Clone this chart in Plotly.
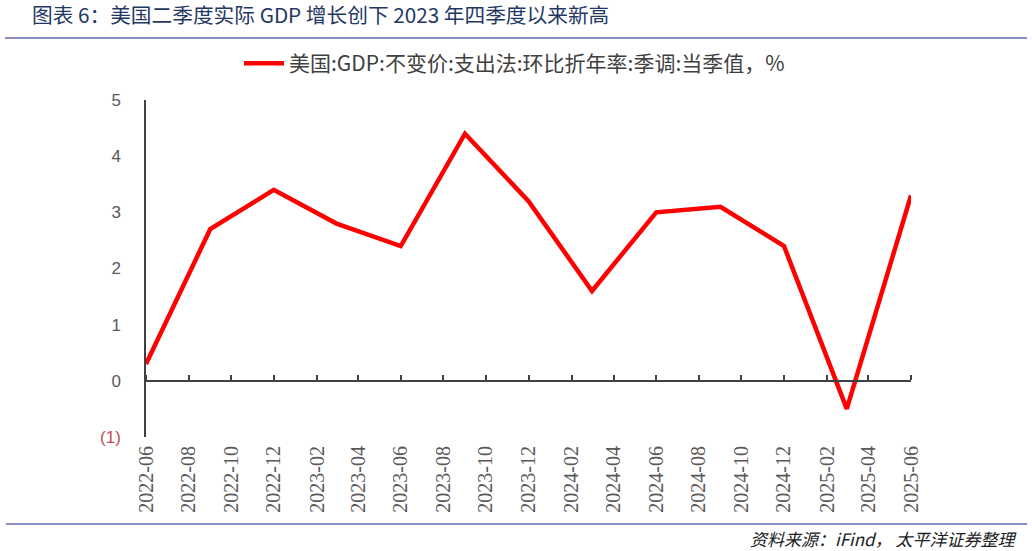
import plotly.graph_objects as go

dates = ["2022-06-01", "2022-09-01", "2022-12-01", "2023-03-01", "2023-06-01", "2023-09-01",
         "2023-12-01", "2024-03-01", "2024-06-01", "2024-09-01", "2024-12-01", "2025-03-01",
         "2025-06-01"]
gdp_qoq_saar = [0.3, 2.7, 3.4, 2.8, 2.4, 4.4, 3.2, 1.6, 3.0, 3.1, 2.4, -0.5, 3.3]

y_tickvals = [-1, 0, 1, 2, 3, 4, 5]
y_ticktext = ["<span style='color:#c0504d'>(1)</span>", "0", "1", "2", "3", "4", "5"]

series_name = "美国:GDP:不变价:支出法:环比折年率:季调:当季值，%"
title_text = "图表 6：美国二季度实际 GDP 增长创下 2023 年四季度以来新高"
source_text = "资料来源：iFind， 太平洋证券整理"

W, H = 1032, 551
ML, MR, MT, MB = 146, 121, 100, 114
pw, ph = W - ML - MR, H - MT - MB


def px_x(x):
    return (x - ML) / pw


def px_y(y):
    return (H - MB - y) / ph


fig = go.Figure()
fig.add_trace(go.Scatter(
    x=dates, y=gdp_qoq_saar, mode="lines", name=series_name,
    line=dict(color="#ff0000", width=4.5), showlegend=True,
))

xrange = ["2022-06-01", "2025-06-01"]
yrange = [-1, 5]

fig.update_layout(
    width=W, height=H,
    margin=dict(l=ML, r=MR, t=MT, b=MB, autoexpand=False),
    paper_bgcolor="white", plot_bgcolor="white",
    font=dict(family="Noto Sans CJK SC", color="#404040"),
    title=dict(text=title_text, xref="container", yref="container", x=32 / W, xanchor="left",
               y=1 - 16 / H, yanchor="middle", pad=dict(l=0, r=0, t=0, b=0),
               font=dict(family="Noto Sans CJK SC", size=20.7, color="#1f3864")),
    legend=dict(orientation="h", x=px_x(239), xanchor="left", y=px_y(43), yanchor="top",
                font=dict(family="Noto Sans CJK SC", size=21, color="#404040"),
                bgcolor="rgba(0,0,0,0)", itemwidth=40),
    xaxis=dict(type="date", range=xrange, dtick="M2", tick0="2022-06-01", tickformat="%Y-%m",
               tickangle=-90, showgrid=False, showline=False, ticks="", zeroline=False,
               automargin=False,
               tickfont=dict(family="Liberation Serif", size=20, color="#595959"),
               ticklabelstandoff=4),
    xaxis2=dict(type="date", range=xrange, dtick="M2", tick0="2022-06-01", overlaying="x",
                side="top", anchor="free", position=(0 - yrange[0]) / (yrange[1] - yrange[0]),
                showticklabels=False, showgrid=False, showline=True, linecolor="#404040",
                linewidth=1.5, ticks="outside", ticklen=5, tickwidth=1.5, tickcolor="#404040",
                automargin=False),
    yaxis=dict(range=yrange, tickvals=y_tickvals, ticktext=y_ticktext, showgrid=False,
               zeroline=False, showline=True, linecolor="#404040", linewidth=1.5, ticks="",
               automargin=False,
               tickfont=dict(family="Liberation Sans", size=17, color="#595959"),
               ticklabelstandoff=20),
    shapes=[
        dict(type="line", xref="paper", yref="paper", x0=px_x(5), x1=px_x(1027),
             y0=px_y(38), y1=px_y(38), line=dict(color="#8c8cc4", width=2)),
        dict(type="line", xref="paper", yref="paper", x0=px_x(6), x1=px_x(1027),
             y0=px_y(524), y1=px_y(524), line=dict(color="#8c8cc4", width=2)),
    ],
    annotations=[
        dict(text="<i>" + source_text + "</i>", xref="paper", yref="paper", x=px_x(1018),
             xanchor="right", y=px_y(538), yanchor="middle", showarrow=False,
             font=dict(family="Noto Sans CJK SC", size=17, color="#202020")),
    ],
)

# invisible companion trace so the zero-line axis (xaxis2) renders
fig.add_trace(go.Scatter(x=dates, y=gdp_qoq_saar, xaxis="x2", mode="lines",
                         line=dict(width=0, color="rgba(0,0,0,0)"), showlegend=False,
                         hoverinfo="skip"))

fig.write_html("out.html", config={"displayModeBar": False},
               post_script="document.body.style.margin='0';document.body.style.padding='0';")
